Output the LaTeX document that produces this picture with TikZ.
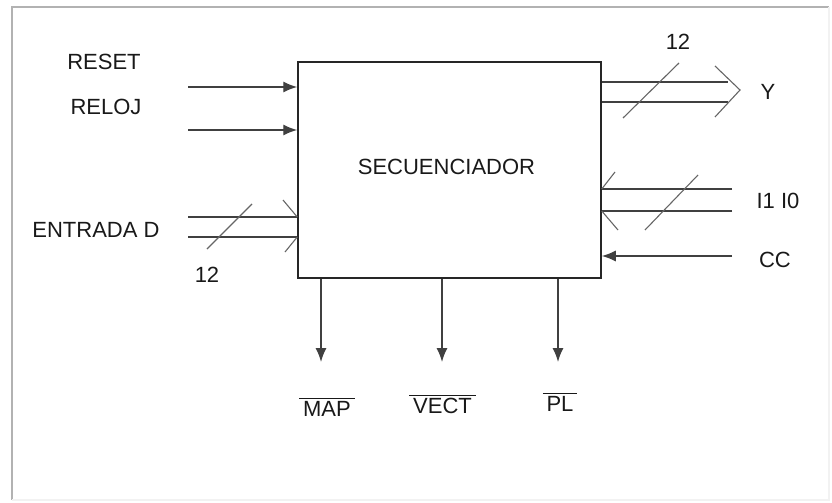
\documentclass[tikz,border=0pt]{standalone}
\usepackage{fontspec}
\setmainfont{Liberation Sans}
\usetikzlibrary{arrows.meta}
\tikzset{
  bloque/.style={rectangle, draw=black!85, line width=0.75pt, minimum width=151.5pt, minimum height=108pt, inner sep=0pt, font=\fontsize{11}{13}\selectfont},
  etiq/.style={font=\fontsize{11}{13}\selectfont, inner sep=0pt, text=black!90},
  senal/.style={draw=black!75, line width=0.7pt, -{Latex[length=7pt, width=5.5pt]}},
  bus/.style={draw=black!75, line width=0.7pt},
  corte/.style={draw=black!60, line width=0.55pt}
}

\begin{document}
\begin{tikzpicture}[x=0.5pt, y=-0.5pt]
  \useasboundingbox (0,0) rectangle (832,503);
  \draw[gray!60, line width=0.6pt] (12,500) -- (12,7) -- (829,7);
  \draw[gray!10, line width=0.6pt] (829,7) -- (829,500) -- (12,500);

  \node[bloque] (seq) at (449.5,170) {};
  \node[etiq] (nom) at (446.5,167) {SECUENCIADOR};

  \node[etiq] (rst) at (104,62) {RESET};
  \node[etiq] (clk) at (106,107) {RELOJ};
  \node[etiq] (ent) at (96,230) {ENTRADA D};
  \node[etiq] (n12a) at (207,275) {12};
  \node[etiq] (n12b) at (678,42) {12};
  \node[etiq] (y) at (768,92) {Y};
  \node[etiq] (ii) at (778,201) {I1 I0};
  \node[etiq] (cc) at (775,260) {CC};
  \node[etiq] (map) at (327,407) {$\overline{\mbox{\,MAP\,}}$};
  \node[etiq] (vect) at (442.5,404) {$\overline{\mbox{\,VECT\,}}$};
  \node[etiq] (pl) at (560,402) {$\overline{\mbox{\,PL\,}}$};

  \coordinate (a1) at (188,87);
  \coordinate (a2) at (188,130);
  \coordinate (d1) at (188,217);
  \coordinate (d2) at (188,237);
  \coordinate (y1) at (728,82);
  \coordinate (y2) at (728,102);
  \coordinate (i1) at (732,189);
  \coordinate (i2) at (732,211);
  \coordinate (c1) at (732,256);
  \coordinate (m1) at (321,362);
  \coordinate (v1) at (442,362);
  \coordinate (p1) at (558,362);

  \draw[senal] (a1) -- (a1 -| seq.west);
  \draw[senal] (a2) -- (a2 -| seq.west);
  \draw[senal] (c1) -- (c1 -| seq.east);

  \draw[bus] (d1) -- (d1 -| seq.west);
  \draw[bus] (d2) -- (d2 -| seq.west);
  \draw[corte] (207,249) -- (252,204);
  \draw[corte] (283,200) -- (d1 -| seq.west);
  \draw[corte] (285,252) -- (d2 -| seq.west);

  \draw[bus] (y1 -| seq.east) -- (y1);
  \draw[bus] (y2 -| seq.east) -- (y2);
  \draw[corte] (623,118) -- (679,63);
  \draw[corte] (715,66) -- (740,90) -- (715,117);

  \draw[bus] (i1) -- (i1 -| seq.east);
  \draw[bus] (i2) -- (i2 -| seq.east);
  \draw[corte] (645,230) -- (698,175);
  \draw[corte] (615,172) -- (i1 -| seq.east);
  \draw[corte] (618,230) -- (i2 -| seq.east);

  \draw[senal] (m1 |- seq.south) -- (m1);
  \draw[senal] (v1 |- seq.south) -- (v1);
  \draw[senal] (p1 |- seq.south) -- (p1);
\end{tikzpicture}
\end{document}
